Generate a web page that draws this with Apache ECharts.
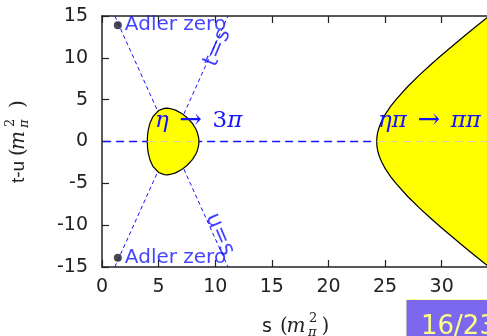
<!DOCTYPE html>
<html>
<head>
<meta charset="utf-8">
<script src="https://cdn.jsdelivr.net/npm/echarts@6/dist/echarts.min.js"></script>
<style>
html, body { margin: 0; padding: 0; background: #fff; }
#chart { width: 487px; height: 336px; }
</style>
</head>
<body>
<div id="chart"></div>
<script>
// upper half of the eta -> 3pi decay region (s, t-u), lower half is the mirror
var sDecay  = [4, 4.02, 4.05, 4.1, 4.25, 4.5, 5, 5.5, 5.75, 6, 6.5, 7, 7.5, 8, 8.3, 8.4, 8.5, 8.54, 8.56];
var tuDecay = [0, 0.68, 1.06, 1.48, 2.25, 2.98, 3.70, 3.95, 3.98, 3.94, 3.75, 3.39, 2.87, 2.13, 1.46, 1.14, 0.68, 0.37, 0];
// upper half of the eta pi -> pi pi scattering region
var sScat  = [24.26, 24.28, 24.32, 24.4, 24.55, 24.7, 25, 25.5, 26, 27, 28, 29, 30, 31, 32, 33, 34, 35];
var tuScat = [0, 0.56, 0.92, 1.38, 1.98, 2.45, 3.21, 4.22, 5.07, 6.57, 7.90, 9.14, 10.33, 11.48, 12.60, 13.71, 14.79, 15.86];

var adlerZeros = [[1.4, 13.9], [1.4, -13.9]];
var tEqualsS = [[1.13, -15], [11.13, 15]];
var uEqualsS = [[1.13, 15], [11.13, -15]];
var zeroLine = [[0.1, 0], [34, 0]];
var zeroInside = [[[4, 0], [8.56, 0]], [[24.26, 0], [34, 0]]];
var lineNames = ['t=s', 'u=s'];
var lineNamePos = [[10.2, 11.2], [10.4, -11.1]];
var xTicks = [0, 5, 10, 15, 20, 25, 30];

var blue = '#1414ff';

function closedRegion(sArr, tuArr) {
	var pts = [];
	for (var i = 0; i < sArr.length; i++) pts.push([sArr[i], tuArr[i]]);
	for (var j = sArr.length - 1; j >= 0; j--) pts.push([sArr[j], -tuArr[j]]);
	return pts;
}
var regions = [closedRegion(sDecay, tuDecay), closedRegion(sScat, tuScat)];

// unit label "(m_pi^2)" built from pieces; off = [paren, m, sup/sub, close paren]
function unitLabel(prefix, font, off, x, y, rot) {
	var c = '#222';
	return {
		type: 'group', x: x, y: y, rotation: rot, silent: true, z: 10,
		children: [
			{ type: 'text', x: 0, y: 0, style: { text: prefix, fontFamily: font, fontSize: 19, fill: c, verticalAlign: 'middle' } },
			{ type: 'text', x: off[0], y: 0, style: { text: '(', fontFamily: 'DejaVu Serif', fontSize: 20, fill: c, verticalAlign: 'middle' } },
			{ type: 'text', x: off[1], y: 0, style: { text: 'm', fontFamily: 'DejaVu Serif', fontStyle: 'italic', fontSize: 20, fill: c, verticalAlign: 'middle' } },
			{ type: 'text', x: off[2] + 1, y: -8, style: { text: '2', fontFamily: 'DejaVu Serif', fontSize: 13, fill: c, verticalAlign: 'middle' } },
			{ type: 'text', x: off[2], y: 6, style: { text: 'π', fontFamily: 'DejaVu Serif', fontStyle: 'italic', fontSize: 13, fill: c, verticalAlign: 'middle' } },
			{ type: 'text', x: off[3], y: 0, style: { text: ')', fontFamily: 'DejaVu Serif', fontSize: 20, fill: c, verticalAlign: 'middle' } }
		]
	};
}

var mathRich = {
	i: { fontFamily: 'DejaVu Serif', fontStyle: 'italic', fontSize: 23, fill: blue },
	n: { fontFamily: 'DejaVu Serif', fontSize: 23, fill: blue },
	a: { fontFamily: 'DejaVu Serif', fontSize: 27, fill: blue, padding: [0, 2, 0, 2] }
};

var axisCommon = {
	type: 'value',
	min: 0, max: 34,
	splitLine: { show: false },
	axisLine: { show: true, onZero: false, lineStyle: { color: '#222', width: 1.5 } },
	axisTick: { show: true, inside: true, length: 7, customValues: xTicks, lineStyle: { color: '#222', width: 1.2 } }
};

var myChart = echarts.init(document.getElementById('chart'));
var option = {
	animation: false,
	grid: { left: 102, right: 0, top: 16, bottom: 69 },
	xAxis: [
		Object.assign({}, axisCommon, {
			position: 'bottom',
			axisLabel: { customValues: xTicks, fontFamily: 'DejaVu Sans', fontSize: 19, color: '#222', margin: 11 }
		}),
		Object.assign({}, axisCommon, {
			position: 'top',
			axisLabel: { show: false }
		})
	],
	yAxis: {
		type: 'value',
		min: -15, max: 15, interval: 5,
		splitLine: { show: false },
		axisLine: { show: true, onZero: false, lineStyle: { color: '#222', width: 1.5 } },
		axisTick: { show: true, inside: true, length: 7, lineStyle: { color: '#222', width: 1.2 } },
		axisLabel: { fontFamily: 'DejaVu Sans', fontSize: 19, color: '#222', margin: 14 }
	},
	series: [
		{
			type: 'lines', coordinateSystem: 'cartesian2d', silent: true, z: 1,
			lineStyle: { color: blue, width: 1.3, type: [8, 5], opacity: 1 },
			data: [{ coords: zeroLine }]
		},
		{
			type: 'lines', coordinateSystem: 'cartesian2d', silent: true, z: 1,
			lineStyle: { color: blue, width: 1, type: [4, 3], opacity: 1 },
			data: [{ coords: tEqualsS }, { coords: uEqualsS }]
		},
		{
			type: 'custom', clip: true, silent: true, z: 2,
			data: [[6, 0], [30, 0]],
			renderItem: function(params, api) {
				var pts = regions[params.dataIndex].map(function(p) { return api.coord(p); });
				return {
					type: 'polygon',
					shape: { points: pts },
					style: { fill: '#ffff00', stroke: '#000', lineWidth: 1.2 }
				};
			}
		},
		{
			type: 'lines', coordinateSystem: 'cartesian2d', silent: true, z: 3,
			lineStyle: { color: '#d4d4a8', width: 1.2, type: [8, 5], opacity: 1 },
			data: zeroInside.map(function(c) { return { coords: c }; })
		},
		{
			type: 'scatter', data: adlerZeros, symbolSize: 8, silent: true, z: 4,
			itemStyle: { color: '#1c1c2a' },
			label: {
				show: true, position: 'right', distance: 3, formatter: 'Adler zero',
				fontFamily: 'DejaVu Sans', fontSize: 20, color: blue
			}
		},
		{
			type: 'scatter', symbolSize: 0, silent: true, z: 4,
			data: lineNamePos.map(function(p, i) {
				return { value: p, label: { formatter: lineNames[i], rotate: i === 0 ? 67 : -67 } };
			}),
			label: {
				show: true, position: 'inside',
				fontFamily: 'DejaVu Sans', fontSize: 22, color: blue
			}
		}
	],
	graphic: [
		{ type: 'text', x: 155, y: 121, silent: true, z: 10,
			style: { text: '{i|η}{a| → }{n|3}{i|π}', rich: mathRich, verticalAlign: 'middle' } },
		{ type: 'text', x: 378, y: 121, silent: true, z: 10,
			style: { text: '{i|ηπ}{a| → }{i|ππ}', rich: mathRich, verticalAlign: 'middle' } },
		unitLabel('s', 'DejaVu Sans', [18, 24.5, 46, 59.5], 262, 327, 0),
		unitLabel('t-u', 'Liberation Sans', [27, 33, 55, 75], 19, 183, Math.PI / 2),
		{ type: 'rect', silent: true, z: 10, shape: { x: 406, y: 299.5, width: 90, height: 40 },
			style: { fill: '#7b68ee', stroke: '#ffffa0', lineWidth: 1 } },
		{ type: 'text', x: 421, y: 327, silent: true, z: 11,
			style: { text: '16/23', fontFamily: 'DejaVu Sans', fontSize: 26, fill: '#ffff88', verticalAlign: 'middle' } }
	]
};
myChart.setOption(option);
</script>
</body>
</html>
